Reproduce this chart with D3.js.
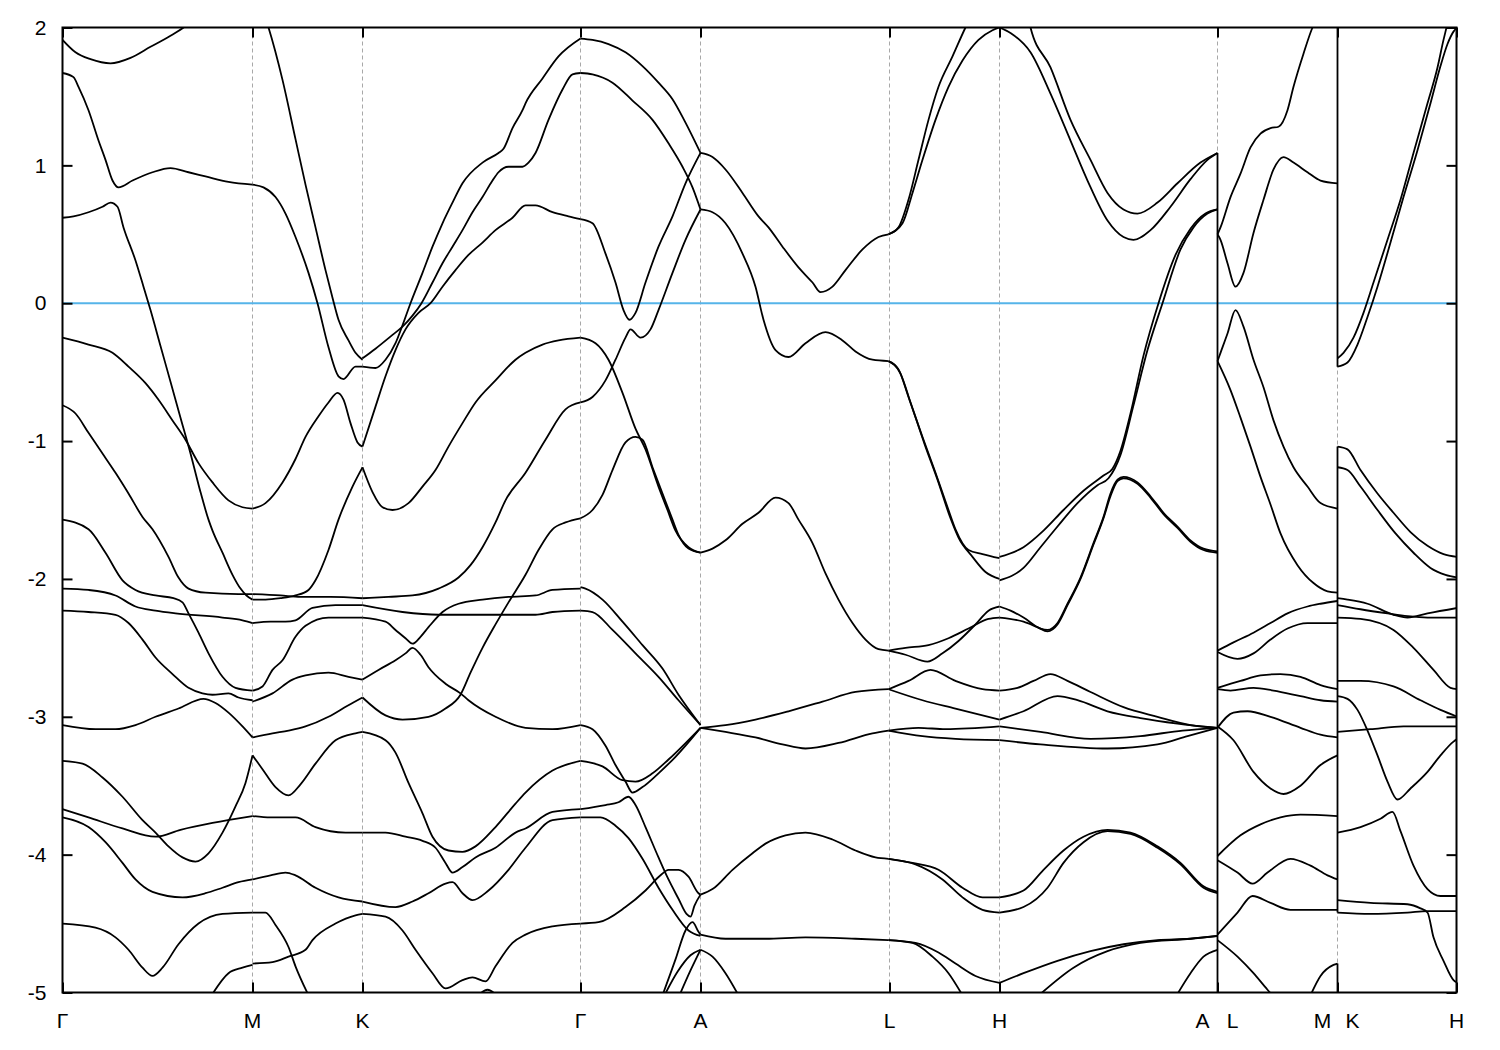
<!DOCTYPE html>
<html><head><meta charset="utf-8">
<script src="https://cdn.jsdelivr.net/npm/d3@7"></script>
<style>body{margin:0;background:#fff}text{font-family:"Liberation Sans",Arial,sans-serif}</style>
</head><body><svg id="c" width="1500" height="1050"></svg>
<script>
// k-path distances of the high-symmetry points and their labels
const kTicks = [0,190,300,518,638,827,937,1155,1275,1394];
const kLabels = ["Γ","M","K","Γ","A","L","H","A|L","M|K","H"];
const yTicks = [-5,-4,-3,-2,-1,0,1,2];
const fermiLevel = 0;

// Γ → M
const bandsGM = [
 [[0,1.91],[13,1.82],[28,1.77],[48,1.74],[68,1.78],[88,1.86],[108,1.94],[123,2.01],[133,2.07]],
 [[0,1.67],[11,1.64],[16,1.57],[26,1.40],[36,1.18],[43,1.04],[50,0.89],[56,0.84],[70,0.89],[90,0.95],[108,0.98],[126,0.95],[143,0.92],[166,0.88],[190,0.86]],
 [[0,0.62],[11,0.63],[26,0.66],[40,0.70],[48,0.73],[55,0.70],[61,0.55],[73,0.31],[81,0.12],[88,-0.05],[98,-0.31],[108,-0.57],[118,-0.83],[128,-1.09],[138,-1.37],[146,-1.57],[150,-1.65],[160,-1.81],[170,-1.97],[178,-2.07],[184,-2.12],[190,-2.15]],
 [[0,-0.25],[26,-0.30],[50,-0.36],[66,-0.46],[83,-0.58],[96,-0.70],[110,-0.85],[123,-0.99],[136,-1.16],[150,-1.30],[166,-1.43],[180,-1.48],[190,-1.49]],
 [[0,-0.74],[13,-0.80],[26,-0.94],[40,-1.09],[53,-1.23],[66,-1.38],[80,-1.55],[90,-1.64],[106,-1.84],[116,-1.99],[126,-2.07],[143,-2.10],[176,-2.11],[190,-2.11]],
 [[0,-1.57],[26,-1.64],[43,-1.81],[60,-2.01],[73,-2.08],[93,-2.12],[111,-2.14],[120,-2.17],[126,-2.25],[136,-2.39],[146,-2.54],[160,-2.71],[173,-2.79],[190,-2.81]],
 [[0,-2.07],[26,-2.08],[53,-2.12],[73,-2.20],[93,-2.23],[113,-2.25],[160,-2.28],[180,-2.30],[190,-2.32]],
 [[0,-2.23],[26,-2.24],[53,-2.26],[66,-2.32],[80,-2.44],[93,-2.57],[110,-2.69],[126,-2.79],[140,-2.83],[150,-2.84],[166,-2.83],[176,-2.86],[190,-2.88]],
 [[0,-3.06],[33,-3.09],[53,-3.09],[73,-3.06],[93,-3.00],[116,-2.94],[141,-2.87],[153,-2.90],[166,-2.97],[180,-3.07],[190,-3.15]],
 [[0,-3.32],[20,-3.34],[40,-3.44],[60,-3.58],[80,-3.75],[93,-3.84],[106,-3.94],[120,-4.02],[133,-4.05],[146,-3.99],[160,-3.84],[173,-3.65],[183,-3.48],[190,-3.28]],
 [[0,-3.67],[26,-3.73],[60,-3.81],[93,-3.87],[118,-3.82],[150,-3.77],[190,-3.72]],
 [[0,-3.73],[26,-3.80],[43,-3.91],[60,-4.06],[73,-4.18],[90,-4.27],[120,-4.31],[143,-4.28],[160,-4.24],[176,-4.20],[190,-4.18]],
 [[0,-4.50],[33,-4.53],[53,-4.60],[66,-4.69],[80,-4.82],[90,-4.88],[100,-4.82],[116,-4.65],[136,-4.50],[160,-4.43],[190,-4.42]],
 [[150,-5.01],[166,-4.86],[180,-4.82],[190,-4.80]]
];

// M → K
const bandsMK = [
 [[202,2.09],[206,2.00],[220,1.62],[233,1.19],[243,0.86],[253,0.55],[263,0.24],[270,0.04],[276,-0.12],[286,-0.27],[293,-0.36],[300,-0.41]],
 [[190,0.86],[201,0.84],[213,0.77],[223,0.65],[233,0.48],[246,0.22],[255,0.00],[266,-0.32],[276,-0.53],[281,-0.55],[293,-0.46],[300,-0.46]],
 [[190,-1.49],[203,-1.45],[220,-1.30],[233,-1.13],[243,-0.97],[256,-0.82],[266,-0.72],[275,-0.65],[281,-0.70],[288,-0.87],[295,-1.01],[300,-1.04]],
 [[190,-2.15],[203,-2.15],[218,-2.14],[233,-2.12],[246,-2.08],[253,-2.01],[266,-1.79],[276,-1.57],[290,-1.33],[300,-1.19]],
 [[190,-2.11],[218,-2.12],[238,-2.13],[268,-2.13],[300,-2.14]],
 [[190,-2.32],[208,-2.31],[223,-2.31],[233,-2.30],[250,-2.21],[273,-2.19],[300,-2.19]],
 [[190,-2.81],[200,-2.78],[210,-2.66],[220,-2.59],[233,-2.42],[243,-2.34],[266,-2.28],[300,-2.28]],
 [[190,-2.89],[210,-2.83],[230,-2.73],[243,-2.70],[266,-2.68],[286,-2.71],[300,-2.73]],
 [[190,-3.15],[210,-3.12],[226,-3.10],[243,-3.07],[266,-3.00],[285,-2.92],[300,-2.86]],
 [[190,-3.28],[200,-3.38],[213,-3.51],[226,-3.57],[238,-3.49],[253,-3.34],[273,-3.17],[293,-3.12],[300,-3.11]],
 [[190,-3.72],[208,-3.73],[233,-3.73],[253,-3.80],[283,-3.84],[300,-3.84]],
 [[190,-4.18],[208,-4.15],[223,-4.13],[233,-4.15],[253,-4.24],[276,-4.31],[300,-4.34]],
 [[190,-4.42],[203,-4.42],[213,-4.51],[226,-4.67],[233,-4.81],[246,-5.02]],
 [[190,-4.79],[210,-4.78],[226,-4.74],[243,-4.69],[250,-4.62],[273,-4.50],[293,-4.44],[300,-4.43]]
];

// K → Γ
const bandsKG = [
 [[300,-0.46],[313,-0.47],[323,-0.41],[333,-0.29],[340,-0.16],[348,0.00],[360,0.22],[370,0.41],[380,0.58],[390,0.73],[400,0.87],[420,1.02],[436,1.09],[441,1.12],[450,1.27],[460,1.40],[463,1.45],[480,1.63],[496,1.79],[518,1.92]],
 [[300,-0.40],[313,-0.33],[330,-0.23],[340,-0.17],[350,-0.09],[359,0.00],[370,0.15],[380,0.29],[390,0.41],[400,0.53],[410,0.66],[420,0.77],[430,0.89],[436,0.95],[446,0.99],[460,0.99],[466,1.02],[473,1.09],[486,1.33],[500,1.55],[510,1.66],[518,1.67]],
 [[300,-1.04],[313,-0.75],[323,-0.53],[333,-0.34],[343,-0.19],[356,-0.07],[368,0.00],[380,0.12],[393,0.24],[406,0.35],[420,0.44],[433,0.53],[450,0.62],[463,0.71],[473,0.71],[490,0.66],[506,0.63],[518,0.61]],
 [[300,-1.19],[310,-1.37],[320,-1.48],[330,-1.50],[346,-1.45],[360,-1.33],[373,-1.21],[386,-1.04],[400,-0.87],[413,-0.72],[433,-0.56],[453,-0.41],[463,-0.36],[480,-0.30],[496,-0.27],[518,-0.25]],
 [[300,-2.14],[326,-2.13],[350,-2.12],[376,-2.07],[396,-1.99],[408,-1.90],[420,-1.77],[433,-1.59],[443,-1.43],[463,-1.23],[483,-0.99],[503,-0.77],[518,-0.72]],
 [[300,-2.19],[340,-2.24],[376,-2.26],[413,-2.26],[446,-2.26],[473,-2.26],[490,-2.24],[518,-2.23]],
 [[300,-2.28],[323,-2.31],[333,-2.37],[343,-2.43],[350,-2.47],[358,-2.42],[366,-2.35],[380,-2.24],[396,-2.18],[420,-2.15],[446,-2.13],[473,-2.12],[490,-2.08],[518,-2.07]],
 [[300,-2.73],[316,-2.66],[333,-2.59],[343,-2.54],[350,-2.50],[358,-2.55],[366,-2.64],[383,-2.76],[398,-2.83],[406,-2.88],[433,-3.00],[463,-3.08],[490,-3.09],[518,-3.06]],
 [[300,-2.86],[323,-2.99],[340,-3.02],[366,-3.00],[383,-2.94],[398,-2.84],[408,-2.68],[420,-2.50],[433,-2.33],[446,-2.17],[463,-1.97],[476,-1.79],[490,-1.64],[503,-1.59],[518,-1.56]],
 [[300,-3.11],[323,-3.17],[333,-3.26],[346,-3.48],[360,-3.70],[370,-3.87],[386,-3.97],[400,-3.98],[413,-3.94],[433,-3.80],[453,-3.63],[463,-3.55],[490,-3.39],[518,-3.32]],
 [[300,-3.84],[323,-3.84],[343,-3.87],[360,-3.90],[373,-3.95],[383,-4.06],[390,-4.13],[400,-4.09],[413,-4.02],[433,-3.95],[453,-3.84],[463,-3.81],[490,-3.69],[518,-3.67]],
 [[300,-4.34],[333,-4.38],[350,-4.34],[366,-4.28],[383,-4.21],[390,-4.20],[400,-4.28],[410,-4.33],[426,-4.26],[446,-4.11],[463,-3.95],[490,-3.75],[518,-3.73]],
 [[300,-4.43],[323,-4.45],[340,-4.55],[353,-4.69],[370,-4.86],[383,-4.97],[400,-4.91],[410,-4.89],[423,-4.92],[433,-4.81],[450,-4.64],[463,-4.58],[490,-4.52],[518,-4.50]],
 [[416,-5.02],[425,-4.98],[434,-5.02]]
];

// Γ → A
const bandsGA = [
 [[518,1.92],[530,1.91],[546,1.88],[563,1.82],[580,1.72],[596,1.60],[610,1.48],[623,1.31],[638,1.09]],
 [[518,1.67],[530,1.66],[550,1.60],[570,1.47],[590,1.33],[606,1.16],[620,0.99],[630,0.84],[638,0.68]],
 [[518,0.61],[530,0.58],[543,0.36],[553,0.15],[561,-0.05],[567,-0.12],[573,-0.07],[583,0.15],[596,0.41],[610,0.63],[623,0.87],[638,1.09]],
 [[518,-0.72],[530,-0.68],[543,-0.56],[553,-0.41],[563,-0.25],[568,-0.19],[578,-0.25],[588,-0.19],[596,-0.05],[610,0.22],[623,0.46],[638,0.68]],
 [[518,-0.25],[533,-0.29],[546,-0.41],[560,-0.65],[573,-0.91],[583,-1.06],[596,-1.33],[605,-1.50],[613,-1.65],[626,-1.77],[638,-1.81]],
 [[518,-1.56],[530,-1.50],[540,-1.39],[550,-1.21],[563,-1.01],[573,-0.97],[580,-0.99],[590,-1.19],[600,-1.38],[610,-1.57],[616,-1.68],[626,-1.78],[638,-1.81]],
 [[518,-2.06],[523,-2.07],[540,-2.15],[560,-2.31],[580,-2.48],[600,-2.65],[616,-2.84],[638,-3.06]],
 [[518,-2.23],[530,-2.24],[550,-2.37],[573,-2.54],[596,-2.71],[616,-2.88],[638,-3.06]],
 [[518,-3.06],[530,-3.09],[543,-3.21],[553,-3.35],[563,-3.47],[570,-3.55],[580,-3.51],[596,-3.41],[613,-3.29],[638,-3.08]],
 [[518,-3.32],[540,-3.36],[560,-3.46],[573,-3.47],[590,-3.41],[606,-3.31],[638,-3.08]],
 [[518,-3.67],[543,-3.64],[556,-3.62],[566,-3.58],[573,-3.64],[583,-3.80],[596,-4.02],[606,-4.18],[616,-4.32],[624,-4.43],[628,-4.45],[632,-4.37],[638,-4.29]],
 [[518,-3.73],[538,-3.73],[553,-3.79],[566,-3.88],[580,-4.03],[596,-4.24],[610,-4.40],[626,-4.55],[638,-4.59]],
 [[518,-4.50],[536,-4.49],[563,-4.38],[583,-4.26],[598,-4.15],[606,-4.11],[616,-4.11],[626,-4.16],[636,-4.28],[638,-4.29]],
 [[600,-5.02],[613,-4.76],[623,-4.55],[630,-4.49],[636,-4.56],[638,-4.58]],
 [[602,-5.02],[615,-4.85],[628,-4.73],[638,-4.69]],
 [[617,-5.02],[628,-4.84],[638,-4.69]]
];

// A → L
const bandsAL = [
 [[638,1.09],[650,1.06],[663,0.97],[680,0.80],[696,0.63],[706,0.55],[720,0.41],[736,0.26],[750,0.15],[758,0.08],[770,0.12],[783,0.24],[800,0.39],[816,0.48],[826,0.50]],
 [[638,0.68],[650,0.66],[663,0.58],[680,0.36],[693,0.12],[701,-0.12],[713,-0.34],[726,-0.39],[743,-0.29],[763,-0.21],[780,-0.27],[793,-0.35],[810,-0.41],[826,-0.42]],
 [[638,-1.81],[650,-1.78],[663,-1.72],[680,-1.60],[696,-1.52],[713,-1.41],[726,-1.45],[736,-1.57],[750,-1.74],[763,-1.96],[776,-2.15],[790,-2.32],[803,-2.44],[816,-2.51],[826,-2.52]],
 [[638,-3.08],[663,-3.06],[693,-3.02],[726,-2.96],[760,-2.89],[793,-2.82],[826,-2.80]],
 [[638,-3.08],[663,-3.11],[693,-3.15],[720,-3.20],[743,-3.23],[776,-3.19],[810,-3.12],[826,-3.10]],
 [[638,-4.29],[650,-4.25],[670,-4.11],[690,-3.99],[703,-3.92],[723,-3.86],[743,-3.84],[770,-3.89],[793,-3.97],[813,-4.02],[826,-4.03]],
 [[638,-4.58],[663,-4.61],[703,-4.61],[743,-4.60],[793,-4.61],[826,-4.62]],
 [[638,-4.69],[650,-4.74],[663,-4.86],[676,-5.02]]
];

// L → H
const bandsLH = [
 [[826,0.50],[836,0.55],[846,0.75],[856,1.04],[866,1.33],[876,1.57],[890,1.79],[903,2.00],[910,2.10]],
 [[826,0.50],[840,0.58],[850,0.80],[860,1.04],[873,1.33],[886,1.57],[900,1.76],[916,1.91],[930,1.98],[937,2.00]],
 [[826,-0.42],[836,-0.48],[846,-0.68],[860,-0.97],[873,-1.23],[886,-1.50],[893,-1.64],[906,-1.79],[920,-1.82],[937,-1.85]],
 [[826,-0.42],[838,-0.51],[848,-0.72],[862,-1.02],[875,-1.28],[888,-1.56],[896,-1.70],[910,-1.84],[923,-1.95],[937,-2.00]],
 [[826,-2.52],[843,-2.50],[866,-2.48],[886,-2.43],[906,-2.36],[926,-2.29],[937,-2.28]],
 [[826,-2.52],[843,-2.55],[865,-2.60],[880,-2.54],[896,-2.45],[913,-2.33],[926,-2.23],[937,-2.20]],
 [[826,-2.80],[846,-2.74],[868,-2.66],[893,-2.74],[920,-2.80],[937,-2.81]],
 [[826,-2.80],[860,-2.88],[893,-2.94],[937,-3.02]],
 [[826,-3.10],[856,-3.08],[883,-3.09],[937,-3.07]],
 [[826,-3.10],[860,-3.14],[893,-3.16],[937,-3.17]],
 [[826,-4.03],[850,-4.06],[876,-4.11],[900,-4.24],[920,-4.31],[937,-4.31]],
 [[826,-4.03],[853,-4.07],[880,-4.18],[900,-4.31],[920,-4.40],[937,-4.42]],
 [[826,-4.62],[853,-4.64],[876,-4.71],[893,-4.79],[913,-4.88],[937,-4.93]],
 [[826,-4.62],[850,-4.64],[870,-4.74],[886,-4.86],[900,-5.02]]
];

// H → A
const bandsHA = [
 [[937,2.00],[948,1.96],[968,1.82],[988,1.52],[1008,1.18],[1025,0.89],[1045,0.60],[1061,0.48],[1071,0.46],[1088,0.53],[1108,0.70],[1128,0.90],[1145,1.04],[1155,1.09]],
 [[966,2.06],[968,2.00],[988,1.71],[1008,1.33],[1028,1.04],[1045,0.80],[1061,0.68],[1075,0.65],[1095,0.73],[1115,0.87],[1138,1.02],[1155,1.09]],
 [[937,-1.84],[961,-1.77],[981,-1.65],[1001,-1.50],[1021,-1.36],[1041,-1.25],[1050,-1.20],[1058,-1.07],[1068,-0.80],[1081,-0.38],[1096,0.00],[1113,0.35],[1128,0.54],[1143,0.65],[1155,0.68]],
 [[937,-2.01],[961,-1.92],[978,-1.77],[995,-1.62],[1015,-1.45],[1035,-1.32],[1046,-1.27],[1058,-1.10],[1071,-0.74],[1085,-0.34],[1100,0.00],[1118,0.39],[1131,0.55],[1145,0.65],[1155,0.68]],
 [[937,-2.20],[948,-2.23],[961,-2.28],[978,-2.36],[985,-2.37],[995,-2.32],[1005,-2.18],[1018,-1.99],[1031,-1.74],[1041,-1.55],[1048,-1.38],[1055,-1.28],[1061,-1.26],[1075,-1.30],[1088,-1.40],[1101,-1.52],[1115,-1.62],[1128,-1.72],[1141,-1.78],[1155,-1.80]],
 [[937,-2.28],[961,-2.31],[975,-2.35],[985,-2.38],[995,-2.33],[1005,-2.19],[1018,-2.00],[1031,-1.75],[1041,-1.56],[1048,-1.40],[1055,-1.29],[1061,-1.27],[1075,-1.31],[1088,-1.41],[1101,-1.53],[1115,-1.63],[1128,-1.73],[1141,-1.79],[1155,-1.81]],
 [[937,-2.81],[955,-2.79],[971,-2.74],[988,-2.69],[1005,-2.74],[1028,-2.82],[1061,-2.93],[1095,-3.00],[1128,-3.06],[1155,-3.08]],
 [[937,-3.02],[961,-2.96],[995,-2.85],[1015,-2.88],[1045,-2.96],[1078,-3.01],[1115,-3.05],[1155,-3.08]],
 [[937,-3.07],[978,-3.11],[1028,-3.16],[1078,-3.14],[1120,-3.10],[1155,-3.08]],
 [[937,-3.17],[978,-3.20],[1045,-3.23],[1095,-3.20],[1125,-3.14],[1155,-3.08]],
 [[937,-4.31],[961,-4.26],[981,-4.11],[1001,-3.97],[1021,-3.87],[1045,-3.82],[1068,-3.84],[1095,-3.94],[1118,-4.06],[1141,-4.23],[1155,-4.27]],
 [[937,-4.42],[961,-4.38],[985,-4.24],[1001,-4.06],[1021,-3.91],[1045,-3.83],[1068,-3.85],[1095,-3.95],[1118,-4.07],[1141,-4.24],[1155,-4.28]],
 [[937,-4.93],[961,-4.86],[995,-4.77],[1028,-4.70],[1061,-4.65],[1095,-4.62],[1128,-4.61],[1155,-4.59]],
 [[978,-5.01],[1011,-4.82],[1045,-4.70],[1078,-4.64],[1128,-4.61],[1155,-4.59]],
 [[1115,-5.01],[1128,-4.86],[1141,-4.74],[1155,-4.69]]
];

// L → M
const bandsLM = [
 [[1155,0.50],[1158,0.55],[1168,0.77],[1178,0.94],[1188,1.13],[1198,1.23],[1208,1.27],[1216,1.28],[1225,1.40],[1231,1.57],[1241,1.81],[1250,2.00],[1254,2.06]],
 [[1155,0.50],[1158,0.46],[1165,0.29],[1173,0.12],[1181,0.22],[1191,0.51],[1201,0.75],[1211,0.97],[1221,1.06],[1231,1.02],[1245,0.95],[1258,0.89],[1275,0.87]],
 [[1155,-0.42],[1158,-0.36],[1165,-0.22],[1173,-0.05],[1181,-0.17],[1191,-0.41],[1201,-0.61],[1211,-0.85],[1221,-1.04],[1231,-1.19],[1245,-1.33],[1258,-1.45],[1275,-1.49]],
 [[1155,-0.42],[1168,-0.63],[1178,-0.83],[1188,-1.04],[1198,-1.26],[1208,-1.46],[1218,-1.67],[1235,-1.90],[1251,-2.03],[1265,-2.09],[1275,-2.10]],
 [[1155,-2.52],[1171,-2.46],[1191,-2.39],[1208,-2.32],[1225,-2.25],[1245,-2.20],[1258,-2.18],[1275,-2.16]],
 [[1155,-2.53],[1175,-2.58],[1191,-2.54],[1208,-2.44],[1225,-2.36],[1245,-2.32],[1275,-2.32]],
 [[1155,-2.79],[1178,-2.74],[1198,-2.70],[1218,-2.69],[1238,-2.71],[1258,-2.77],[1275,-2.80]],
 [[1155,-2.80],[1168,-2.81],[1191,-2.79],[1211,-2.81],[1238,-2.85],[1258,-2.88],[1275,-2.89]],
 [[1155,-3.08],[1171,-2.97],[1185,-2.96],[1208,-3.00],[1238,-3.08],[1258,-3.13],[1275,-3.15]],
 [[1155,-3.07],[1171,-3.17],[1191,-3.40],[1208,-3.52],[1221,-3.56],[1238,-3.50],[1258,-3.35],[1275,-3.28]],
 [[1155,-4.01],[1178,-3.86],[1198,-3.78],[1218,-3.73],[1238,-3.71],[1275,-3.72]],
 [[1155,-4.04],[1175,-4.13],[1190,-4.21],[1205,-4.13],[1228,-4.03],[1248,-4.08],[1265,-4.15],[1275,-4.18]],
 [[1155,-4.58],[1175,-4.42],[1190,-4.30],[1208,-4.35],[1228,-4.40],[1275,-4.40]],
 [[1155,-4.62],[1175,-4.74],[1191,-4.86],[1205,-4.98],[1210,-5.02]],
 [[1248,-5.02],[1258,-4.88],[1271,-4.80],[1275,-4.79]]
];

// K → H
const bandsKH = [
 [[1275,-0.40],[1281,-0.36],[1291,-0.25],[1301,-0.07],[1311,0.15],[1325,0.46],[1338,0.75],[1351,1.09],[1365,1.45],[1375,1.71],[1381,1.91],[1384,2.00],[1386,2.06]],
 [[1275,-0.46],[1285,-0.43],[1295,-0.30],[1305,-0.10],[1315,0.12],[1328,0.44],[1341,0.77],[1355,1.11],[1368,1.45],[1378,1.72],[1385,1.88],[1391,1.97],[1395,2.00]],
 [[1275,-1.04],[1285,-1.06],[1298,-1.21],[1315,-1.38],[1331,-1.52],[1348,-1.66],[1365,-1.76],[1381,-1.82],[1395,-1.84]],
 [[1275,-1.19],[1285,-1.21],[1298,-1.33],[1315,-1.50],[1333,-1.67],[1351,-1.81],[1368,-1.92],[1383,-1.97],[1395,-1.99]],
 [[1275,-2.14],[1285,-2.15],[1305,-2.18],[1331,-2.26],[1345,-2.28],[1365,-2.25],[1395,-2.21]],
 [[1275,-2.19],[1298,-2.22],[1325,-2.25],[1345,-2.27],[1365,-2.28],[1395,-2.28]],
 [[1275,-2.28],[1298,-2.29],[1331,-2.37],[1351,-2.50],[1371,-2.66],[1388,-2.79],[1395,-2.80]],
 [[1275,-2.74],[1298,-2.74],[1331,-2.78],[1358,-2.88],[1378,-2.95],[1395,-3.00]],
 [[1275,-2.85],[1285,-2.87],[1295,-2.95],[1305,-3.10],[1315,-3.28],[1325,-3.47],[1335,-3.60],[1348,-3.52],[1365,-3.40],[1378,-3.28],[1391,-3.18],[1395,-3.16]],
 [[1275,-3.11],[1308,-3.09],[1341,-3.07],[1375,-3.07],[1395,-3.07]],
 [[1275,-3.84],[1298,-3.80],[1318,-3.74],[1330,-3.69],[1338,-3.83],[1351,-4.08],[1365,-4.25],[1378,-4.30],[1395,-4.30]],
 [[1275,-4.33],[1308,-4.35],[1345,-4.36],[1358,-4.39],[1365,-4.42],[1371,-4.60],[1381,-4.77],[1391,-4.91],[1395,-4.93]],
 [[1275,-4.42],[1308,-4.43],[1345,-4.42],[1365,-4.41],[1395,-4.41]]
];

// band jumps at the path discontinuities (A|L and M|K): [k, E from, E to]
const jumps = [[1155,1.09,-5],[1275,2,-0.46],[1275,-1.04,-4.42],[1275,-4.79,-5]];

const allBands = [].concat(bandsGM,bandsMK,bandsKG,bandsGA,bandsAL,bandsLH,bandsHA,bandsLM,bandsKH);

const L = 62.5, R = 1456.5, T = 27.5, B = 992.5;
const x = d3.scaleLinear().domain([0,1394]).range([L,R]);
const y = d3.scaleLinear().domain([-5,2]).range([B,T]);
const svg = d3.select("#c");

svg.append("defs").append("clipPath").attr("id","clip")
  .append("rect").attr("x",L).attr("y",T).attr("width",R-L).attr("height",B-T);

// dashed vertical grid at high-symmetry points
svg.append("g").selectAll("line").data(kTicks.slice(1,-1)).enter().append("line")
  .attr("x1",d=>x(d)).attr("x2",d=>x(d)).attr("y1",T).attr("y2",B)
  .attr("stroke","#a8a8a8").attr("stroke-width",1).attr("stroke-dasharray","4,3");

// Fermi level
svg.append("line").attr("x1",L).attr("x2",R).attr("y1",y(fermiLevel)).attr("y2",y(fermiLevel))
  .attr("stroke","#56b4e9").attr("stroke-width",2);

const line = d3.line().x(d=>x(d[0])).y(d=>y(d[1])).curve(d3.curveMonotoneX);
const gb = svg.append("g").attr("clip-path","url(#clip)");
gb.selectAll("path").data(allBands).enter().append("path")
  .attr("d",line).attr("fill","none").attr("stroke","#000").attr("stroke-width",1.8)
  .attr("stroke-linejoin","round");
gb.selectAll("line.jump").data(jumps).enter().append("line").attr("class","jump")
  .attr("x1",d=>x(d[0])).attr("x2",d=>x(d[0])).attr("y1",d=>y(d[1])).attr("y2",d=>y(d[2]))
  .attr("stroke","#000").attr("stroke-width",1.8);

// axes
const fmt = d => String(d);
const ax = svg.append("g").attr("transform",`translate(${L},0)`)
  .call(d3.axisLeft(y).tickValues(yTicks).tickSizeInner(-10).tickSizeOuter(0).tickPadding(16).tickFormat(fmt));
svg.append("g").attr("transform",`translate(${R},0)`)
  .call(d3.axisRight(y).tickValues(yTicks).tickSizeInner(-10).tickSizeOuter(0).tickFormat(""));
svg.append("g").attr("transform",`translate(0,${T})`)
  .call(d3.axisTop(x).tickValues(kTicks).tickSizeInner(-10).tickSizeOuter(0).tickFormat(""));
svg.append("g").attr("transform",`translate(0,${B})`)
  .call(d3.axisBottom(x).tickValues(kTicks).tickSizeInner(-10).tickSizeOuter(0).tickFormat(""));
svg.selectAll(".domain").remove();
svg.selectAll(".tick line").attr("stroke","#000").attr("stroke-width",2);
ax.selectAll("text").attr("font-size",21).attr("fill","#000").attr("font-family","Liberation Sans, Arial, sans-serif");

// frame
svg.append("rect").attr("x",L).attr("y",T).attr("width",R-L).attr("height",B-T)
  .attr("fill","none").attr("stroke","#000").attr("stroke-width",2);

// k-point labels
const labs = [];
kTicks.forEach((k,i)=>{
  const parts = kLabels[i].split("|");
  if (parts.length===2){ labs.push({k,t:parts[0],dx:-15}); labs.push({k,t:parts[1],dx:15}); }
  else labs.push({k,t:parts[0],dx:0});
});
svg.append("g").selectAll("text").data(labs).enter().append("text")
  .attr("x",d=>x(d.k)+d.dx).attr("y",1028).attr("text-anchor","middle")
  .attr("font-size",21).attr("fill","#000")
  .attr("font-family",d=>d.t==="Γ"?"Liberation Serif, serif":"Liberation Sans, Arial, sans-serif")
  .text(d=>d.t);
</script>
</body></html>
